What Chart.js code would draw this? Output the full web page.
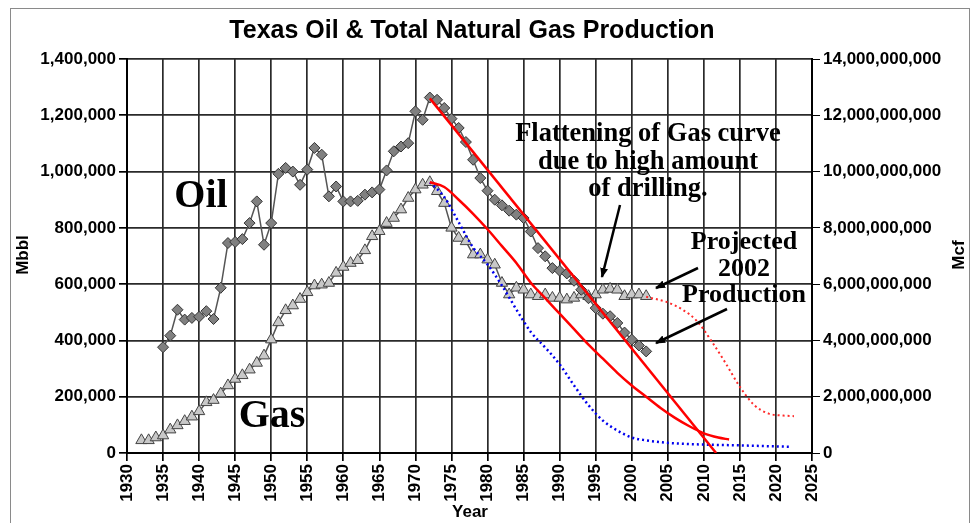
<!DOCTYPE html>
<html>
<head>
<meta charset="utf-8">
<script src="https://cdn.jsdelivr.net/npm/chart.js@4.4.1/dist/chart.umd.min.js"></script>
<style>
html,body{margin:0;padding:0;background:#fff;}
#wrap{position:relative;width:973px;height:523px;overflow:hidden;background:#fff;}
#c{position:absolute;left:0;top:0;}
#frame{position:absolute;left:10px;top:8px;width:960px;height:540px;border:1px solid #8a8a8a;box-sizing:border-box;pointer-events:none;}
.s{position:absolute;white-space:nowrap;font-family:"Liberation Sans",Arial,sans-serif;font-weight:bold;color:#000;}
.t{position:absolute;white-space:nowrap;font-family:"Liberation Serif","Times New Roman",serif;font-weight:bold;color:#000;text-align:center;transform:translateX(-50%);}
#arrows{position:absolute;left:0;top:0;}
</style>
</head>
<body>
<div id="wrap">
  <canvas id="c" width="973" height="523"></canvas>
  <div id="frame"></div>
  <div class="s" id="title" style="left:472px;top:17px;font-size:25px;line-height:25px;transform:translateX(-50%);">Texas Oil &amp; Total Natural Gas Production</div>
  <div class="s" style="left:22px;top:255px;font-size:17px;line-height:17px;transform:translate(-50%,-50%) rotate(-90deg);">Mbbl</div>
  <div class="s" style="left:958px;top:255px;font-size:17px;line-height:17px;transform:translate(-50%,-50%) rotate(-90deg);">Mcf</div>
  <div class="s" style="left:470px;top:503px;font-size:17px;line-height:17px;transform:translateX(-50%);">Year</div>
  <div class="t" style="left:201px;top:174px;font-size:40px;line-height:40px;">Oil</div>
  <div class="t" style="left:272px;top:394px;font-size:40px;line-height:40px;">Gas</div>
  <div class="t" style="left:648px;top:119px;font-size:26.5px;line-height:27.5px;">Flattening of Gas curve<br>due to high amount<br>of drilling.</div>
  <div class="t" style="left:744px;top:228px;font-size:26px;line-height:26.6px;">Projected<br>2002<br>Production</div>
  <svg id="arrows" width="973" height="523" viewBox="0 0 973 523">
    <defs>
      <marker id="ah" markerWidth="10" markerHeight="8" refX="9" refY="4" orient="auto" markerUnits="userSpaceOnUse">
        <path d="M0,0 L10,4 L0,8 Z" fill="#000"/>
      </marker>
    </defs>
    <line x1="620" y1="205" x2="602" y2="277" stroke="#000" stroke-width="2.5" marker-end="url(#ah)"/>
    <line x1="698" y1="268" x2="656" y2="288" stroke="#000" stroke-width="2.5" marker-end="url(#ah)"/>
    <line x1="727" y1="309" x2="656" y2="343" stroke="#000" stroke-width="2.5" marker-end="url(#ah)"/>
  </svg>
</div>
<script>
// ---- data (oil in Mbbl, gas in Mcf) ----
const oilYears = [1935,1936,1937,1938,1939,1940,1941,1942,1943,1944,1945,1946,1947,1948,1949,1950,1951,1952,1953,1954,1955,1956,1957,1958,1959,1960,1961,1962,1963,1964,1965,1966,1967,1968,1969,1970,1971,1972,1973,1974,1975,1976,1977,1978,1979,1980,1981,1982,1983,1984,1985,1986,1987,1988,1989,1990,1991,1992,1993,1994,1995,1996,1997,1998,1999,2000,2001,2002];
const oilValues = [376000,417000,509000,474000,480000,484000,504000,476000,587000,746000,750000,760000,817000,894000,740000,817000,992000,1013000,1000000,953000,1007000,1084000,1060000,912000,947000,894000,894000,896000,918000,926000,936000,1004000,1072000,1089000,1101000,1214000,1184000,1263000,1255000,1226000,1188000,1155000,1105000,1042000,977000,932000,900000,880000,861000,847000,835000,787000,728000,699000,657000,648000,638000,612000,580000,550000,515000,495000,486000,462000,428000,403000,382000,361000];

const gasYears = [1932,1933,1934,1935,1936,1937,1938,1939,1940,1941,1942,1943,1944,1945,1946,1947,1948,1949,1950,1951,1952,1953,1954,1955,1956,1957,1958,1959,1960,1961,1962,1963,1964,1965,1966,1967,1968,1969,1970,1971,1972,1973,1974,1975,1976,1977,1978,1979,1980,1981,1982,1983,1984,1985,1986,1987,1988,1989,1990,1991,1992,1993,1994,1995,1996,1997,1998,1999,2000,2001,2002];
const gasValues = [450e6,450e6,550e6,620e6,830e6,980e6,1130e6,1290e6,1480e6,1800e6,1880e6,2110e6,2400e6,2630e6,2760e6,2960e6,3200e6,3460e6,4030e6,4640e6,5070e6,5240e6,5470e6,5710e6,5950e6,5980e6,6040e6,6400e6,6610e6,6750e6,6850e6,7200e6,7700e6,7880e6,8170e6,8350e6,8650e6,9060e6,9360e6,9530e6,9620e6,9300e6,8880e6,8000e6,7640e6,7520e6,7050e6,7050e6,6870e6,6690e6,6040e6,5630e6,5870e6,5800e6,5630e6,5570e6,5630e6,5510e6,5510e6,5450e6,5510e6,5630e6,5570e6,5630e6,5800e6,5830e6,5800e6,5570e6,5630e6,5630e6,5570e6];

// oil decline trend (red solid, Mbbl)
const oilTrendYears = [1972, 2011.7];
const oilTrendValues = [1260000, 0];

// gas decline curve (red solid, Mcf)
const gasCurveYears = [1972,1974,1976,1978,1980,1982,1984,1986,1988,1990,1992,1994,1996,1998,2000,2002,2004,2006,2008,2010,2012,2013.5];
const gasCurveValues = [9620e6,9450e6,9000e6,8500e6,7950e6,7350e6,6750e6,6050e6,5500e6,4950e6,4400e6,3850e6,3350e6,2850e6,2400e6,2000e6,1600e6,1250e6,950e6,700e6,550e6,480e6];

// gas projection (blue dotted, Mcf)
const gasBlueYears = [1972,1974,1976,1978,1980,1982,1984,1986,1988,1990,1992,1994,1996,1998,2000,2002,2005,2010,2015,2022];
const gasBlueValues = [9620e6,9100e6,8200e6,7300e6,6700e6,5950e6,5100e6,4300e6,3750e6,3150e6,2400e6,1700e6,1150e6,800e6,550e6,450e6,360e6,300e6,270e6,220e6];

// gas projection after 2002 (red dotted, Mcf)
const gasProjYears = [2002,2005,2007,2009,2011,2013,2015,2017,2019,2021,2022.5];
const gasProjValues = [5550e6,5350e6,5100e6,4700e6,4000e6,3200e6,2350e6,1700e6,1400e6,1330e6,1310e6];

// axis ranges / ticks
const xMin = 1930, xMax = 2025, xStep = 5;
const oilMax = 1400000, oilStep = 200000;
const gasMax = 14000000000, gasStep = 2000000000;

const pts = (xs, ys) => xs.map((x, i) => ({x: x, y: ys[i]}));

const tickFont = {family: '"Liberation Sans", Arial, sans-serif', size: 17, weight: 'bold'};

new Chart(document.getElementById('c'), {
  type: 'line',
  data: {
    datasets: [
      {data: pts(oilTrendYears, oilTrendValues), yAxisID: 'y', borderColor: '#ff0000', borderWidth: 2.5, pointRadius: 0, order: 1},
      {data: pts(gasCurveYears, gasCurveValues), yAxisID: 'y2', borderColor: '#ff0000', borderWidth: 2.5, pointRadius: 0, cubicInterpolationMode: 'monotone', order: 1},
      {data: pts(gasBlueYears, gasBlueValues), yAxisID: 'y2', borderColor: '#0000ee', borderWidth: 2.5, borderDash: [2, 3], pointRadius: 0, cubicInterpolationMode: 'monotone', order: 1},
      {data: pts(gasProjYears, gasProjValues), yAxisID: 'y2', borderColor: '#ff2a2a', borderWidth: 2, borderDash: [2, 3], pointRadius: 0, cubicInterpolationMode: 'monotone', order: 1},
      {data: pts(oilYears, oilValues), yAxisID: 'y', borderColor: '#555', borderWidth: 1.5, pointStyle: 'rectRot', pointRadius: 5.5, pointBackgroundColor: '#808080', pointBorderColor: '#333', pointBorderWidth: 1, order: 2},
      {data: pts(gasYears, gasValues), yAxisID: 'y2', borderColor: '#555', borderWidth: 1.5, pointStyle: 'triangle', pointRadius: 6.5, pointBackgroundColor: '#c8c8c8', pointBorderColor: '#444', pointBorderWidth: 1, order: 2}
    ]
  },
  options: {
    responsive: false,
    animation: false,
    devicePixelRatio: 1,
    layout: {padding: {left: 10, right: 5, top: 59, bottom: 0}},
    plugins: {legend: {display: false}, tooltip: {enabled: false}, title: {display: false}},
    scales: {
      x: {
        type: 'linear', min: xMin, max: xMax,
        ticks: {stepSize: xStep, autoSkip: false, maxRotation: 90, minRotation: 90, color: '#000', font: tickFont, padding: 3, callback: v => String(v)},
        grid: {color: '#2a2a2a', lineWidth: 1.7, tickLength: 8, tickColor: '#000'},
        border: {color: '#000', width: 2},
        afterFit: s => { s.height = 70; }
      },
      y: {
        type: 'linear', position: 'left', min: 0, max: oilMax,
        ticks: {stepSize: oilStep, color: '#000', font: tickFont, padding: 3, callback: v => v.toLocaleString('en-US')},
        grid: {color: '#2a2a2a', lineWidth: 1.7, tickLength: 8, tickColor: '#000'},
        border: {color: '#000', width: 2},
        afterFit: s => { s.width = 117; }
      },
      y2: {
        type: 'linear', position: 'right', min: 0, max: gasMax,
        ticks: {stepSize: gasStep, color: '#000', font: tickFont, padding: 3, callback: v => v.toLocaleString('en-US')},
        grid: {drawOnChartArea: false, tickLength: 8, color: '#000'},
        border: {color: '#000', width: 2},
        afterFit: s => { s.width = 156; }
      }
    }
  }
});
</script>
</body>
</html>
